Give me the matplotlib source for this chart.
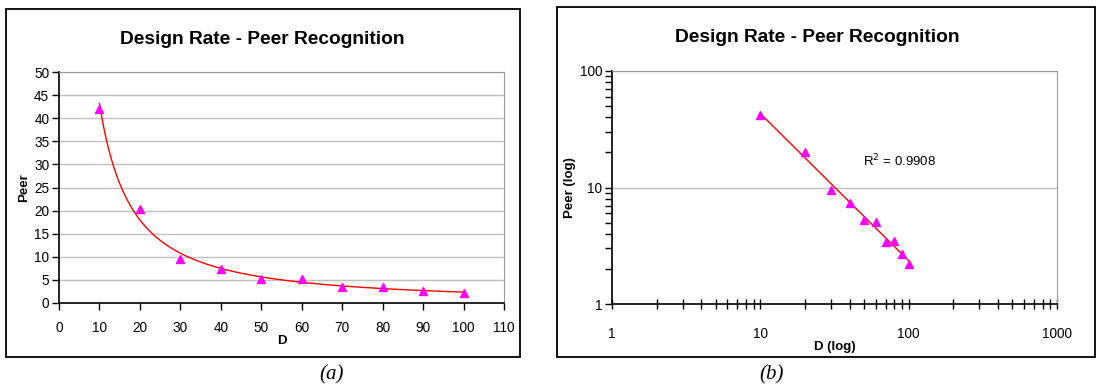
import numpy as np
import matplotlib
matplotlib.use("Agg")
import matplotlib.pyplot as plt
from matplotlib.patches import Rectangle
from matplotlib.ticker import FixedLocator, NullFormatter, FixedFormatter

plt.rcParams['font.family'] = ['Liberation Sans', 'DejaVu Sans']

# data
design_rate = [10, 20, 30, 40, 50, 60, 70, 80, 90, 100]
peer = [42.0, 20.3, 9.6, 7.4, 5.3, 5.1, 3.4, 3.5, 2.7, 2.2]
r2_label = "R$^2$ = 0.9908"
title = "Design Rate - Peer Recognition"

W, H = 1096, 387
fig = plt.figure(figsize=(W / 100, H / 100), dpi=100)

# power trend line fitted on the data
b, loga = np.polyfit(np.log(design_rate), np.log(peer), 1)
xs = np.linspace(design_rate[0], design_rate[-1], 200)
ys = np.exp(loga) * xs ** b

def px(l, t, r, btm):
    return [l / W, 1 - btm / H, (r - l) / W, (btm - t) / H]

# panel borders
fig.patches.append(Rectangle((6 / W, 1 - 357 / H), 514 / W, 348 / H, transform=fig.transFigure,
                             fill=False, ec="black", lw=1.3))
fig.patches.append(Rectangle((557 / W, 1 - 357 / H), 538 / W, 350 / H, transform=fig.transFigure,
                             fill=False, ec="black", lw=1.3))

grid_c = "#c0c0c0"
frame_c = "#9a9a9a"
tick_fs = 9.8

# ---- (a) linear
ax1 = fig.add_axes(px(59, 72, 504, 303))
ax1.plot(xs, ys, color="red", lw=1)
ax1.plot(design_rate, peer, "^", color="magenta", ms=6, mec="magenta")
ax1.set_xlim(0, 110)
ax1.set_ylim(0, 50)
ax1.set_xticks(range(0, 111, 10))
ax1.set_yticks(range(0, 51, 5))
ax1.yaxis.grid(True, color=grid_c, lw=1)
ax1.set_axisbelow(True)
ax1.tick_params(labelsize=tick_fs, length=5, width=1, colors="black", pad=8)
ax1.tick_params(axis="y", pad=2)
ax1.set_xlabel("D", fontsize=9.5, fontweight="bold", labelpad=0)
ax1.set_ylabel("Peer", fontsize=9.5, fontweight="bold", labelpad=3)
for s in ["top", "right"]:
    ax1.spines[s].set_color(frame_c)
for s in ["left", "bottom"]:
    ax1.spines[s].set_linewidth(1.2)
fig.text(262 / W, 1 - 39 / H, title, ha="center", va="center", fontsize=13.8, fontweight="bold")

# ---- (b) log-log
ax2 = fig.add_axes(px(612, 71, 1057, 304))
ax2.set_xscale("log")
ax2.set_yscale("log")
ax2.plot(xs, ys, color="red", lw=1)
ax2.plot(design_rate, peer, "^", color="magenta", ms=6, mec="magenta")
ax2.set_xlim(1, 1000)
ax2.set_ylim(1, 100)
ax2.xaxis.set_major_locator(FixedLocator([1, 10, 100, 1000]))
ax2.xaxis.set_major_formatter(FixedFormatter(["1", "10", "100", "1000"]))
ax2.yaxis.set_major_locator(FixedLocator([1, 10, 100]))
ax2.yaxis.set_major_formatter(FixedFormatter(["1", "10", "100"]))
ax2.xaxis.set_minor_formatter(NullFormatter())
ax2.yaxis.set_minor_formatter(NullFormatter())
ax2.yaxis.grid(True, which="major", color=grid_c, lw=1)
ax2.set_axisbelow(True)
ax2.tick_params(axis="x", which="both", direction="inout", length=7, width=1, labelsize=tick_fs, pad=13)
ax2.tick_params(axis="y", which="both", length=5, width=1, labelsize=tick_fs, pad=2)
ax2.set_xlabel("D (log)", fontsize=9.5, fontweight="bold", labelpad=0)
ax2.set_ylabel("Peer (log)", fontsize=9.5, fontweight="bold", labelpad=3)
for s in ["top", "right"]:
    ax2.spines[s].set_color(frame_c)
for s in ["left", "bottom"]:
    ax2.spines[s].set_linewidth(1.2)
ax2.text(863 / W, 1 - 161 / H, r2_label, transform=fig.transFigure, ha="left", va="center", fontsize=9.5)
fig.text(817 / W, 1 - 38 / H, title, ha="center", va="center", fontsize=13.8, fontweight="bold")

# captions
fig.text(332 / W, 1 - 375 / H, "(a)", ha="center", va="center", fontsize=15,
         family=["Liberation Serif", "DejaVu Serif"], style="italic")
fig.text(772 / W, 1 - 375 / H, "(b)", ha="center", va="center", fontsize=15,
         family=["Liberation Serif", "DejaVu Serif"], style="italic")

fig.savefig("out.png", dpi=100)
